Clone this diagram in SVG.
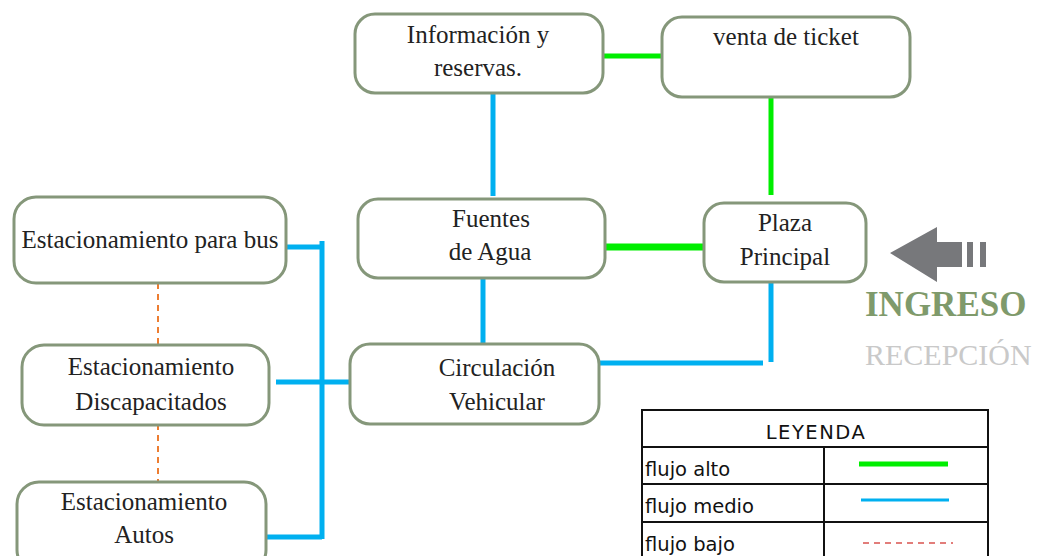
<svg xmlns="http://www.w3.org/2000/svg" width="1048" height="556" viewBox="0 0 1048 556">
<style>
.box{fill:#fff;stroke:#85977a;stroke-width:3}
.t{font-family:"Liberation Serif","Times New Roman",serif;font-size:25px;fill:#222;text-anchor:middle}
.g{stroke:#00ee00;fill:none}
.b{stroke:#00b0f0;stroke-width:5;fill:none}
.o{stroke:#ed7d31;stroke-width:2;stroke-dasharray:6 5;fill:none}
.lg{font-family:"DejaVu Sans",sans-serif;font-size:19.5px;fill:#111}
</style>
<rect width="1048" height="556" fill="#fff"/>
<g id="connectors">
<line class="g" x1="603" y1="56" x2="662" y2="56" stroke-width="5"/>
<line class="g" x1="771" y1="89" x2="771" y2="195" stroke-width="5"/>
<line class="g" x1="605" y1="247" x2="705" y2="247" stroke-width="7"/>
<line class="b" x1="493" y1="89" x2="493" y2="196"/>
<line class="b" x1="483" y1="279" x2="483" y2="344"/>
<line class="b" x1="597" y1="363" x2="763" y2="363"/>
<line class="b" x1="771" y1="270" x2="771" y2="362"/>
<line class="b" x1="286" y1="247" x2="322" y2="247"/>
<line class="b" x1="322" y1="241" x2="322" y2="539"/>
<line class="b" x1="266" y1="537" x2="322" y2="537"/>
<line class="b" x1="276" y1="382" x2="349" y2="382"/>
<line class="o" x1="158" y1="283" x2="158" y2="344"/>
<line class="o" x1="158" y1="424" x2="158" y2="483"/>
</g>
<g id="info">
<rect class="box" x="355" y="14" width="248" height="79" rx="20"/>
<text class="t" x="478" y="43">Información y</text>
<text class="t" x="478" y="76">reservas.</text>
</g>
<g id="venta">
<rect class="box" x="662" y="17" width="248" height="80" rx="20"/>
<text class="t" x="786" y="45">venta de ticket</text>
</g>
<g id="fuentes">
<rect class="box" x="358" y="199" width="247" height="79" rx="20"/>
<text class="t" x="491" y="227">Fuentes</text>
<text class="t" x="490" y="260">de Agua</text>
</g>
<g id="plaza">
<rect class="box" x="704" y="203" width="162" height="79" rx="20"/>
<text class="t" x="785" y="231">Plaza</text>
<text class="t" x="785" y="265">Principal</text>
</g>
<g id="circulacion">
<rect class="box" x="350" y="344" width="249" height="80" rx="20"/>
<text class="t" x="497" y="376">Circulación</text>
<text class="t" x="497" y="410">Vehicular</text>
</g>
<g id="bus">
<rect class="box" x="14" y="197" width="272" height="86" rx="22"/>
<text class="t" x="150" y="248">Estacionamiento para bus</text>
</g>
<g id="discapacitados">
<rect class="box" x="22" y="345" width="247" height="80" rx="22"/>
<text class="t" x="151" y="375">Estacionamiento</text>
<text class="t" x="151" y="410">Discapacitados</text>
</g>
<g id="autos">
<rect class="box" x="17" y="482" width="249" height="90" rx="22"/>
<text class="t" x="144" y="510">Estacionamiento</text>
<text class="t" x="144" y="543">Autos</text>
</g>
<g id="ingreso">
<polygon points="890,253 937,227 937,242 962,242 962,267 937,267 937,282" fill="#77787b"/>
<rect x="967" y="242" width="6" height="25" fill="#77787b"/>
<rect x="980" y="242" width="6" height="25" fill="#77787b"/>
<text x="865" y="316" font-family="Liberation Serif,serif" font-weight="bold" font-size="35" fill="#7f9a6b">INGRESO</text>
<text x="865" y="365" font-family="Liberation Serif,serif" font-size="30" fill="#c9c9c9">RECEPCIÓN</text>
</g>
<g id="leyenda">
<rect x="642" y="410" width="346" height="160" fill="#fff" stroke="#111" stroke-width="2"/>
<line x1="642" y1="447" x2="988" y2="447" stroke="#111" stroke-width="2"/>
<line x1="642" y1="484" x2="988" y2="484" stroke="#111" stroke-width="2"/>
<line x1="642" y1="522" x2="988" y2="522" stroke="#111" stroke-width="2"/>
<line x1="824" y1="447" x2="824" y2="556" stroke="#111" stroke-width="2"/>
<text class="lg" x="816" y="439" text-anchor="middle" letter-spacing="1.5">LEYENDA</text>
<text class="lg" x="645" y="476">flujo alto</text>
<text class="lg" x="645" y="513">flujo medio</text>
<text class="lg" x="645" y="551">flujo bajo</text>
<line x1="859" y1="464" x2="948" y2="464" stroke="#00ee00" stroke-width="5"/>
<line x1="861" y1="500" x2="949" y2="500" stroke="#00b0f0" stroke-width="3"/>
<line x1="863" y1="543" x2="953" y2="543" stroke="#d9534f" stroke-width="1.5" stroke-dasharray="6 5"/>
</g>
</svg>
